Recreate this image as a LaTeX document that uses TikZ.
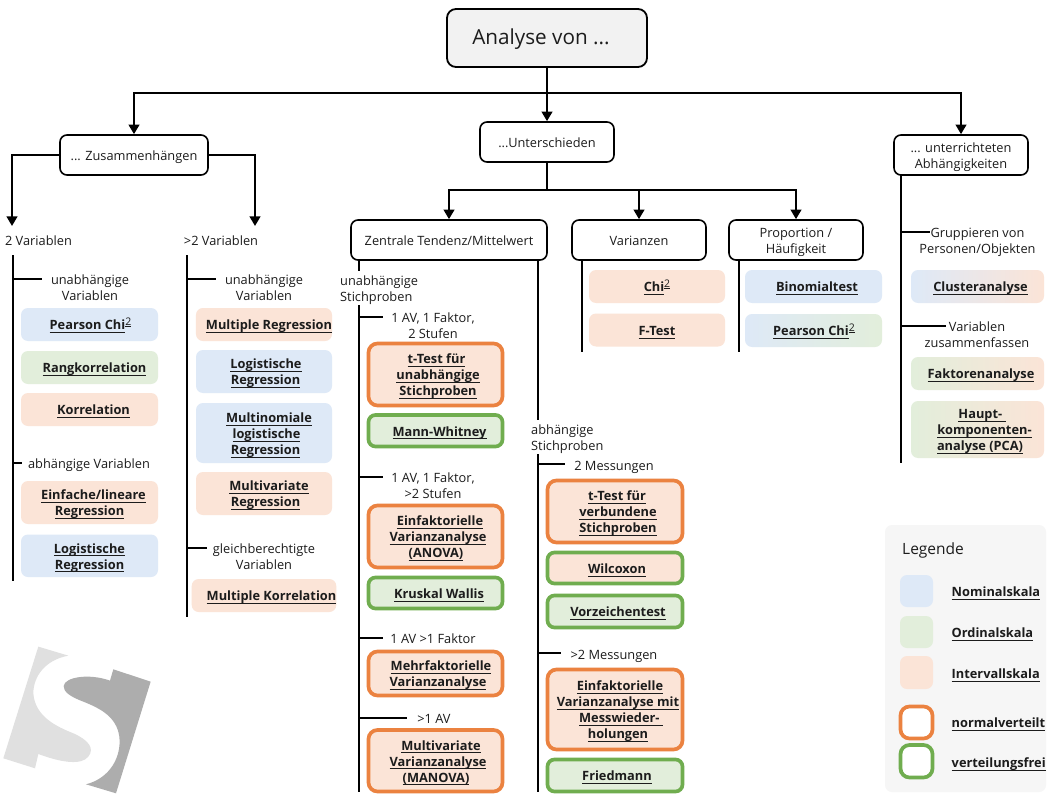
\documentclass[tikz,border=0pt]{standalone}
\usepackage{fontspec}
\setmainfont{Open Sans}
\usetikzlibrary{arrows.meta,calc}
\definecolor{cblue}{HTML}{DEE9F7}
\definecolor{cgreen}{HTML}{E2EEDB}
\definecolor{corange}{HTML}{FBE4D7}
\definecolor{bor}{HTML}{EB8240}
\definecolor{bgr}{HTML}{70AD4F}
\definecolor{ink}{HTML}{1C1C1C}
\newcommand\ulx[2][0]{\leavevmode\hspace*{#1pt}\hspace*{#1pt}\setbox0\hbox{#2}\rlap{\rule[-3.4pt]{\wd0}{1.15pt}}\box0}
\newcommand\chis{\raisebox{4pt}{\setbox0\hbox{\fontsize{10.5}{10}\selectfont\mdseries 2}\rlap{\rule[-1.6pt]{\wd0}{1pt}}\box0}}
\newcommand\st{\rule[-3.5pt]{0pt}{17.5pt}}
\newcommand\stf{\rule{0pt}{14pt}}
\newcommand\bx[7]{%
  \pgfmathsetmacro\cx{(#3+#5)/2}\pgfmathsetmacro\cy{(#4+#6)/2}%
  \pgfmathsetmacro\wx{#5-#3}\pgfmathsetmacro\hy{#6-#4}%
  \node[#1,minimum width=\wx pt,minimum height=\hy pt] (#2) at (\cx,\cy) {\stf #7};}
\newcommand\lbl[4]{\node[lab] (#1) at (#2,#3-9) {\stf #4};}
\newcommand\tick[4]{\coordinate (#1a) at (#2,#3);\coordinate (#1b) at (#4,#3);\draw[thin tick] (#1a) -- (#1b);}
\tikzset{
  base/.style={inner sep=0pt,align=center,text=ink,font=\fontsize{12.8}{16}\selectfont,
    execute at begin node=\st,execute at end node=\st},
  lab/.style={base,anchor=north},
  labl/.style={base,anchor=north west,align=left,fill=white},
  head/.style={base,draw=black,line width=1.6pt,rounded corners=7pt,fill=white},
  tb/.style={base,font=\fontsize{12.8}{16}\selectfont\bfseries,rounded corners=7pt},
  blue/.style={tb,fill=cblue},
  green/.style={tb,fill=cgreen},
  orange/.style={tb,fill=corange},
  on/.style={orange,draw=bor,line width=3.7pt,rounded corners=9pt},
  og/.style={orange,draw=bgr,line width=3.7pt},
  gn/.style={green,draw=bgr,line width=3.7pt},
  bg/.style={tb,left color=cblue,right color=cgreen},
  bo/.style={tb,left color=cblue,right color=corange},
  go/.style={tb,left color=cgreen,right color=corange},
  conn/.style={line width=2.2pt,black},
  arr/.style={conn,-{Triangle[length=9.5pt,width=10.5pt]}},
  trunk/.style={line width=1.8pt,black},
  thin tick/.style={line width=1.4pt,black},
}
\begin{document}
\begin{tikzpicture}[x=1pt,y=-1pt]
\useasboundingbox (0,0) rectangle (1056,802);
\fill[white] (0,0) rectangle (1056,802);
% logo
\begin{scope}[shift={(0,450)},x=0.3333pt,y=-0.3333pt]
\fill[black!12] (115,590) -- (205,617) .. controls (135,630) and (100,680) .. (100,730)
  .. controls (105,800) and (170,830) .. (220,850) .. controls (265,870) and (285,895) .. (265,920)
  .. controls (245,945) and (190,940) .. (115,912) -- (105,955) -- (10,925) -- cycle;
\fill[black!32] (340,658) -- (452,695) -- (348,1030) -- (258,1003)
  .. controls (330,985) and (365,920) .. (358,860) .. controls (350,800) and (300,775) .. (250,755)
  .. controls (210,740) and (190,725) .. (191,708) .. controls (195,680) and (270,670) .. (330,692) -- cycle;
\end{scope}
% trunks (under labels)
\coordinate (t1a) at (13,255);\coordinate (t1b) at (13,581);
\coordinate (t2a) at (187,255);\coordinate (t2b) at (187,617);
\draw[trunk] (t1a) -- (t1b);
\draw[trunk] (t2a) -- (t2b);
% headers
\bx{head,fill=black!5,line width=1.8pt,rounded corners=9pt,font=\fontsize{20.7}{24}\selectfont}{top}{447}{9}{647}{67}{\rule{0pt}{18pt}\hspace*{-12pt}Analyse von ...}
\bx{head}{zus}{60}{135}{208}{175}{... Zusammenhängen}
\bx{head}{uns}{480}{122}{614}{162}{...Unterschieden}
\bx{head}{unt}{894}{135}{1028}{175}{... unterrichteten\\Abhängigkeiten}
\bx{head}{zen}{351}{220}{547}{260}{Zentrale Tendenz/Mittelwert}
\bx{head}{var}{572}{220}{706}{260}{Varianzen}
\bx{head}{pro}{729}{220}{863}{260}{Proportion /\\Häufigkeit}
% main connectors
\coordinate (j1) at (547,93);
\draw[conn] (top.south) -- (j1);
\draw[arr] (j1) -| (zus.north);
\draw[arr] (j1) -- (uns.north);
\draw[arr] (j1) -| (unt.north);
\coordinate (a2) at (12,226);\coordinate (a3) at (255,226);
\draw[arr] (zus.west) -| (a2);
\draw[arr] (zus.east) -| (a3);
\coordinate (j2) at (547,190);
\draw[conn] (uns.south) -- (j2);
\draw[arr] (j2) -| (zen.north);
\draw[arr] (j2) -| (var.north);
\draw[arr] (j2) -| (pro.north);
\coordinate (t3) at (359,792);\coordinate (t3u) at (359,260);
\coordinate (t4) at (538,792);\coordinate (t4u) at (538,260);
\coordinate (t5) at (582,352);\coordinate (t5u) at (582,260);
\coordinate (t6) at (739,352);\coordinate (t6u) at (739,260);
\coordinate (t7) at (901,463);\coordinate (t7u) at (901,175);
\draw[trunk] (t3u) -- (t3);
\draw[trunk] (t4u) -- (t4);
\draw[trunk] (t5u) -- (t5);
\draw[trunk] (t6u) -- (t6);
\draw[trunk] (t7u) -- (t7);
% column 1
\lbl{l2v}{38.5}{240}{2 Variablen}
\tick{k1}{13}{279}{42}
\lbl{l1}{90}{279.5}{unabhängige\\Variablen}
\bx{blue}{b1}{21}{308}{158}{341}{\ulx[1]{Pearson Chi}\chis}
\bx{green}{b2}{21}{351}{158}{384}{\ulx[5]{Rangkorrelation}}
\bx{orange}{b3}{21}{393}{158}{426}{\ulx[4]{Korrelation}}
\tick{k2}{13}{463}{22}
\lbl{l2}{89}{463}{abhängige Variablen}
\bx{orange}{b4}{21}{481}{158}{524}{\ulx[4]{Einfache/lineare}\\\ulx{Regression}}
\bx{blue}{b5}{21}{534.5}{158}{577}{\ulx{Logistische}\\\ulx{Regression}}
% column 2
\lbl{l2w}{221}{240}{>2 Variablen}
\tick{k3}{187}{279}{216}
\lbl{l3}{264}{279}{unabhängige\\Variablen}
\bx{orange}{c1}{196}{308}{332}{341}{\ulx[5]{Multiple Regression}}
\bx{blue}{c2}{196}{350}{332}{393}{\ulx[2]{Logistische}\\\ulx[1.5]{Regression}}
\bx{blue}{c3}{196}{403}{332}{463}{\ulx[5]{Multinomiale}\\\ulx[2.5]{logistische}\\\ulx[1.5]{Regression}}
\bx{orange}{c4}{196}{472}{332}{515}{\ulx[5]{Multivariate}\\\ulx[1.5]{Regression}}
\tick{k4}{187}{548}{207}
\lbl{l4}{264}{548}{gleichberechtigte\\Variablen}
\bx{orange}{c5}{196}{579}{332}{612}{\ulx[7.5]{Multiple Korrelation}}
% column 3
\node[labl] (l5) at (340,271) {\stf unabhängige\\Stichproben};
\tick{k5}{359}{317}{383}
\lbl{l6}{433}{317}{1 AV, 1 Faktor,\\2 Stufen}
\bx{on}{d1}{368.5}{343.5}{502.5}{405.5}{\ulx[1]{t-Test für}\\\ulx[2.5]{unabhängige}\\\ulx[2.5]{Stichproben}}
\bx{gn}{d2}{368.5}{415}{502.5}{446.5}{\ulx[4]{Mann-Whitney}}
\tick{k6}{359}{477}{383}
\lbl{l7}{433}{477}{1 AV, 1 Faktor,\\>2 Stufen}
\bx{on}{d3}{368.5}{505.5}{502.5}{567.5}{\ulx[4.5]{Einfaktorielle}\\\ulx[2.5]{Varianzanalyse}\\\ulx[.5]{(ANOVA)}}
\bx{gn}{d4}{368.5}{577.5}{502.5}{608.5}{\ulx[3.5]{Kruskal Wallis}}
\tick{k7}{359}{638}{383}
\lbl{l8}{433}{638}{1 AV >1 Faktor}
\bx{on}{d5}{368.5}{651.5}{502.5}{695.5}{\ulx[5.5]{Mehrfaktorielle}\\\ulx[2.5]{Varianzanalyse}}
\tick{k8}{359}{718}{407}
\lbl{l9}{434}{718}{>1 AV}
\bx{on}{d6}{368.5}{730}{502.5}{791.5}{\ulx[5.5]{Multivariate}\\\ulx[2.5]{Varianzanalyse}\\\ulx[.5]{(MANOVA)}}
% column 4
\node[labl] (l10) at (531,420) {\stf abhängige\\Stichproben};
\tick{k9}{538}{464}{565}
\lbl{l11}{614}{465}{2 Messungen}
\bx{on}{e1}{547.5}{480.5}{682.5}{542.5}{\ulx[2]{t-Test für}\\\ulx[3]{verbundene}\\\ulx[3]{Stichproben}}
\bx{og}{e2}{547.5}{552.5}{682.5}{583.5}{\ulx[2]{Wilcoxon}}
\bx{gn}{e3}{547.5}{595.5}{682.5}{627.5}{\ulx[3]{Vorzeichentest}}
\tick{k10}{538}{653}{561}
\lbl{l12}{614}{654}{>2 Messungen}
\bx{on}{e4}{547.5}{669.5}{682.5}{749.5}{\ulx[5]{Einfaktorielle}\\\ulx[3]{Varianzanalyse mit}\\\ulx[6]{Messwieder-\ }\\\ulx[3]{holungen}}
\bx{gn}{e5}{547.5}{759.5}{682.5}{791.5}{\ulx[2]{Friedmann}}
% Varianzen
\bx{orange}{f1}{589}{270}{725}{303}{\ulx{Chi}\chis}
\bx{orange}{f2}{589}{313.5}{725}{346.5}{\ulx{F-Test}}
% Proportion
\bx{blue}{g1}{745}{270}{882}{303}{\ulx[3.5]{Binomialtest}}
\bx{bg}{g2}{745}{314}{882}{347}{\ulx[.5]{Pearson Chi}\chis}
% right
\tick{k11}{901}{232}{930}
\lbl{l13}{977.5}{232}{Gruppieren von\\Personen/Objekten}
\bx{bo}{h1}{911}{270}{1044}{303}{\ulx[3]{Clusteranalyse}}
\tick{k12}{901}{326}{946}
\lbl{l14}{977}{326}{Variablen\\zusammenfassen}
\bx{go}{h2}{911}{357}{1044}{390}{\ulx[3.5]{Faktorenanalyse}}
\bx{go}{h3}{911}{401}{1044}{458}{\ulx[4.5]{Haupt-\ }\\\ulx[7]{komponenten-}\\\ulx[2.5]{analyse (PCA)}}
% legend
\bx{tb,fill=black!3.5}{leg}{885}{525}{1046}{792}{}
\node[lab,anchor=west,font=\fontsize{15.5}{18}\selectfont] (legt) at (902,549) {Legende};
\bx{blue}{s1}{900}{575}{933}{607}{}
\bx{green}{s2}{900}{616}{933}{648}{}
\bx{orange}{s3}{900}{656}{933}{689}{}
\bx{on,fill=white}{s4}{900.5}{706.5}{932.5}{738.5}{}
\bx{on,draw=bgr,fill=white}{s5}{900.5}{745}{932.5}{777.5}{}
\tikzset{legl/.style={tb,anchor=west}}
\node[legl] (t1) at (951.5,591) {\ulx{Nominalskala}};
\node[legl] (t2) at (951.5,632) {\ulx{Ordinalskala}};
\node[legl] (t3x) at (951.5,673) {\ulx{Intervallskala}};
\node[legl] (t4x) at (951.5,722) {\ulx{normalverteilt}};
\node[legl] (t5x) at (951.5,762) {\ulx{verteilungsfrei}};
\end{tikzpicture}
\end{document}
